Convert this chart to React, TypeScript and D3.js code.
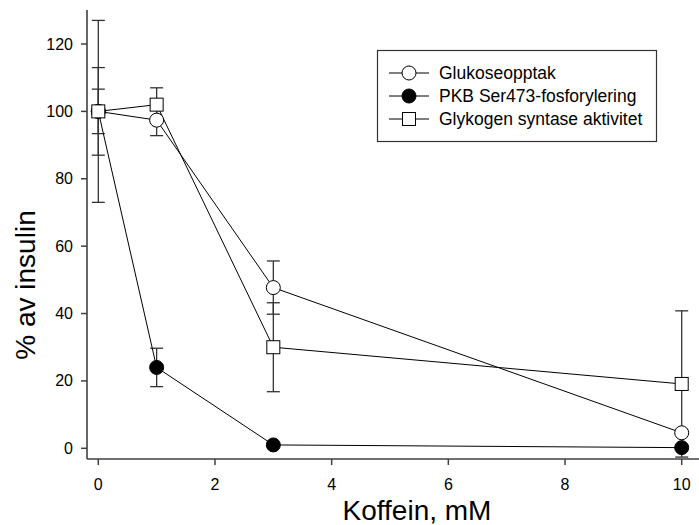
import React, { useEffect, useRef } from 'react';
import * as d3 from 'd3';

// Koffein-dose (mM)
const doses = [0, 1, 3, 10];

// % av insulin, lest av figuren
const glukose = [100, 97.4, 47.7, 4.6];
const glukoseErr = [13, 4.6, 7.9, 0];
const pkb = [100, 24, 1, 0.2];
const pkbErr = [6.6, 5.7, 0, 0];
const glykogen = [100, 102, 30, 19.1];
const glykogenErr = [27, 5, 13.2, 21.7];

const xTicks = [0, 2, 4, 6, 8, 10];
const yTicks = [0, 20, 40, 60, 80, 100, 120];

const seriesNames = ['Glukoseopptak', 'PKB Ser473-fosforylering', 'Glykogen syntase aktivitet'];

const FONT = 'Liberation Sans, Arial, sans-serif';

const App = () => {
  const svgRef = useRef<SVGSVGElement>(null);

  useEffect(() => {
    const svg = d3.select(svgRef.current);
    svg.selectAll('*').remove();

    const x = d3.scaleLinear().domain([0, 10]).range([98.3, 681.7]);
    const y = d3.scaleLinear().domain([0, 120]).range([448.3, 44]);

    const axisX = 87;
    const axisY = 459;
    const axisColor = '#404040';

    // axes
    svg.append('line')
      .attr('x1', axisX).attr('x2', axisX)
      .attr('y1', 10).attr('y2', axisY)
      .attr('stroke', axisColor).attr('stroke-width', 1.6);
    svg.append('line')
      .attr('x1', axisX).attr('x2', 699)
      .attr('y1', axisY).attr('y2', axisY)
      .attr('stroke', axisColor).attr('stroke-width', 1.6);

    yTicks.forEach(t => {
      svg.append('line')
        .attr('x1', axisX - 6).attr('x2', axisX)
        .attr('y1', y(t)).attr('y2', y(t))
        .attr('stroke', axisColor).attr('stroke-width', 1.5);
      svg.append('text')
        .attr('x', axisX - 14).attr('y', y(t) + 5.5)
        .attr('text-anchor', 'end')
        .style('font-family', FONT).style('font-size', '16px')
        .text(t);
    });

    xTicks.forEach(t => {
      svg.append('line')
        .attr('x1', x(t)).attr('x2', x(t))
        .attr('y1', axisY).attr('y2', axisY + 6)
        .attr('stroke', axisColor).attr('stroke-width', 1.5);
      svg.append('text')
        .attr('x', x(t)).attr('y', axisY + 31)
        .attr('text-anchor', 'middle')
        .style('font-family', FONT).style('font-size', '16px')
        .text(t);
    });

    // axis titles
    svg.append('text')
      .attr('x', 417).attr('y', 520)
      .attr('text-anchor', 'middle')
      .style('font-family', FONT).style('font-size', '28px')
      .text('Koffein, mM');
    svg.append('text')
      .attr('transform', 'translate(35,285) rotate(-90)')
      .attr('text-anchor', 'middle')
      .style('font-family', FONT).style('font-size', '28px')
      .text('% av insulin');

    const series = [
      { vals: glukose, err: glukoseErr, shape: 'circle', fill: '#fff' },
      { vals: pkb, err: pkbErr, shape: 'circle', fill: '#000' },
      { vals: glykogen, err: glykogenErr, shape: 'square', fill: '#fff' },
    ];

    // error bars
    series.forEach(s => {
      doses.forEach((d, i) => {
        const e = s.err[i];
        if (!e) return;
        const cx = x(d);
        const top = y(s.vals[i] + e);
        const bot = y(s.vals[i] - e);
        const g = svg.append('g').attr('stroke', '#333').attr('stroke-width', 1.3);
        g.append('line').attr('x1', cx).attr('x2', cx).attr('y1', top).attr('y2', bot);
        g.append('line').attr('x1', cx - 6.5).attr('x2', cx + 6.5).attr('y1', top).attr('y2', top);
        g.append('line').attr('x1', cx - 6.5).attr('x2', cx + 6.5).attr('y1', bot).attr('y2', bot);
      });
    });

    const lineGen = d3.line<number>()
      .x((_, i) => x(doses[i]))
      .y(v => y(v));

    series.forEach(s => {
      svg.append('path')
        .attr('d', lineGen(s.vals))
        .attr('fill', 'none')
        .attr('stroke', '#000')
        .attr('stroke-width', 1);
    });

    const drawMarker = (g, shape, fill, cx, cy) => {
      if (shape === 'circle') {
        g.append('circle')
          .attr('cx', cx).attr('cy', cy).attr('r', 7)
          .attr('fill', fill).attr('stroke', '#000').attr('stroke-width', 1);
      } else {
        g.append('rect')
          .attr('x', cx - 6.5).attr('y', cy - 6.5)
          .attr('width', 13).attr('height', 13)
          .attr('fill', fill).attr('stroke', '#000').attr('stroke-width', 1);
      }
    };

    series.forEach(s => {
      doses.forEach((d, i) => drawMarker(svg, s.shape, s.fill, x(d), y(s.vals[i])));
    });

    // legend
    const leg = svg.append('g');
    leg.append('rect')
      .attr('x', 377.5).attr('y', 50.5)
      .attr('width', 279).attr('height', 91)
      .attr('fill', '#fff').attr('stroke', '#333').attr('stroke-width', 1.2);
    const rowY = [73, 96, 119];
    series.forEach((s, i) => {
      leg.append('line')
        .attr('x1', 389).attr('x2', 429)
        .attr('y1', rowY[i]).attr('y2', rowY[i])
        .attr('stroke', '#000');
      drawMarker(leg, s.shape, s.fill, 409, rowY[i]);
      leg.append('text')
        .attr('x', 439).attr('y', rowY[i] + 6)
        .style('font-family', FONT).style('font-size', '17.5px')
        .text(seriesNames[i]);
    });
  }, []);

  return (
    <svg
      ref={svgRef}
      width={699}
      height={525}
      style={{ position: 'absolute', left: 0, top: 0, background: '#fff' }}
    />
  );
};

export default App;
